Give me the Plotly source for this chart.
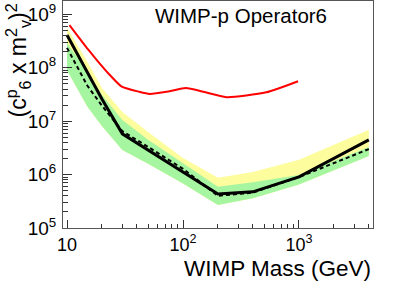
import plotly.graph_objects as go

# ---- data ----
mass = [10, 15, 20, 30, 50, 100, 200, 400, 1000, 4000]
observed = [4.1e8, 8.3e7, 2.6e7, 5.8e6, 2.9e6, 1.12e6, 4.35e5, 4.75e5, 9.06e5, 4.47e6]
expected = [2.36e8, 4.6e7, 1.95e7, 6.5e6, 3.3e6, 1.28e6, 4.0e5, 4.6e5, 9.0e5, 3.0e6]
band_low = [9.0e7, 1.86e7, 8.1e6, 2.9e6, 1.6e6, 6.8e5, 2.7e5, 3.6e5, 6.5e5, 2.24e6]
green_up = [2.95e8, 8.3e7, 3.1e7, 1.05e7, 4.5e6, 1.66e6, 5.9e5, 7.2e5, 9.8e5, 3.3e6]
yellow_up = [5.6e8, 1.29e8, 4.2e7, 1.48e7, 6.3e6, 2.04e6, 8.7e5, 1.12e6, 1.9e6, 6.9e6]

red_mass = [10.5, 15.2, 18, 23.3, 29.4, 42, 51.6, 75, 106, 150, 237, 522, 982]
red_val = [6.3e8, 2.2e8, 1.41e8, 7.4e7, 4.5e7, 3.55e7, 3.24e7, 3.6e7, 4.17e7, 3.55e7, 2.82e7, 3.47e7, 5.6e7]

y_ticks = [1e5, 1e6, 1e7, 1e8, 1e9]
y_ticktext = ["10<sup>5</sup>", "10<sup>6</sup>", "10<sup>7</sup>", "10<sup>8</sup>", "10<sup>9</sup>"]
x_ticks = [10, 100, 1000]
x_ticktext = ["10", "10<sup>2</sup>", "10<sup>3</sup>"]

FONT = "Liberation Sans, Arial, Helvetica, sans-serif"

fig = go.Figure()
# yellow band
fig.add_trace(go.Scatter(x=mass, y=band_low, mode="lines", line=dict(width=0),
                         showlegend=False, hoverinfo="skip"))
fig.add_trace(go.Scatter(x=mass, y=yellow_up, mode="lines", line=dict(width=0),
                         fill="tonexty", fillcolor="#fdfd9e", showlegend=False, hoverinfo="skip"))
# green band
fig.add_trace(go.Scatter(x=mass, y=band_low, mode="lines", line=dict(width=0),
                         showlegend=False, hoverinfo="skip"))
fig.add_trace(go.Scatter(x=mass, y=green_up, mode="lines", line=dict(width=0),
                         fill="tonexty", fillcolor="#a6f5a0", showlegend=False, hoverinfo="skip"))
# expected (dashed)
fig.add_trace(go.Scatter(x=mass, y=expected, mode="lines",
                         line=dict(color="black", width=2, dash="4px,3px"), showlegend=False))
# observed
fig.add_trace(go.Scatter(x=mass, y=observed, mode="lines",
                         line=dict(color="black", width=3), showlegend=False))
# red curve
fig.add_trace(go.Scatter(x=red_mass, y=red_val, mode="lines",
                         line=dict(color="#ff0000", width=2, shape="spline", smoothing=0.6),
                         showlegend=False))

minor_x = [v * m for m in (10, 100, 1000) for v in range(2, 10) if v * m < 4400]
minor_y = [v * m for m in (1e5, 1e6, 1e7, 1e8, 1e9) for v in range(2, 10) if v * m < 1.8e9]

fig.update_xaxes(type="log", range=[0.9655, 3.638], tickvals=x_ticks, ticktext=x_ticktext,
                 ticks="inside", ticklen=8, tickwidth=1, tickcolor="#333",
                 showline=True, linecolor="#555", linewidth=1, mirror=True,
                 showgrid=False, zeroline=False,
                 tickfont=dict(family=FONT, size=18, color="black"),
                 minor=dict(tickvals=minor_x, ticks="inside", ticklen=4, tickcolor="#333", showgrid=False))
fig.update_yaxes(type="log", range=[5, 9.25], tickvals=y_ticks, ticktext=y_ticktext,
                 ticks="inside", ticklen=9, tickwidth=1, tickcolor="#333",
                 showline=True, linecolor="#555", linewidth=1, mirror=True,
                 showgrid=False, zeroline=False, ticklabelstandoff=2,
                 tickfont=dict(family=FONT, size=19, color="black"),
                 minor=dict(tickvals=minor_y, ticks="inside", ticklen=5, tickcolor="#333", showgrid=False))

fig.add_annotation(text="WIMP-p Operator6", xref="paper", yref="paper", x=0.574, y=0.935,
                   xanchor="center", yanchor="middle", showarrow=False,
                   font=dict(family=FONT, size=20.5, color="black"))
fig.add_annotation(text="WIMP Mass (GeV)", xref="paper", yref="paper", x=1.0, y=-0.178,
                   xanchor="right", yanchor="middle", showarrow=False,
                   font=dict(family=FONT, size=22.5, color="black"))
fig.add_annotation(text="(c<sup>p</sup><sub>6</sub> x m<sup>2</sup><sub>v</sub>)<sup>2</sup>",
                   xref="paper", yref="paper", x=-0.145, y=0.998, textangle=-90,
                   xanchor="center", yanchor="top", showarrow=False,
                   font=dict(family=FONT, size=23, color="black"))

fig.update_layout(width=415, height=281, margin=dict(l=63, r=42, t=1, b=53),
                  paper_bgcolor="white", plot_bgcolor="white", showlegend=False)

fig.write_html("out.html", config={"displayModeBar": False},
               post_script="document.body.style.margin='0';document.body.style.padding='0';")
